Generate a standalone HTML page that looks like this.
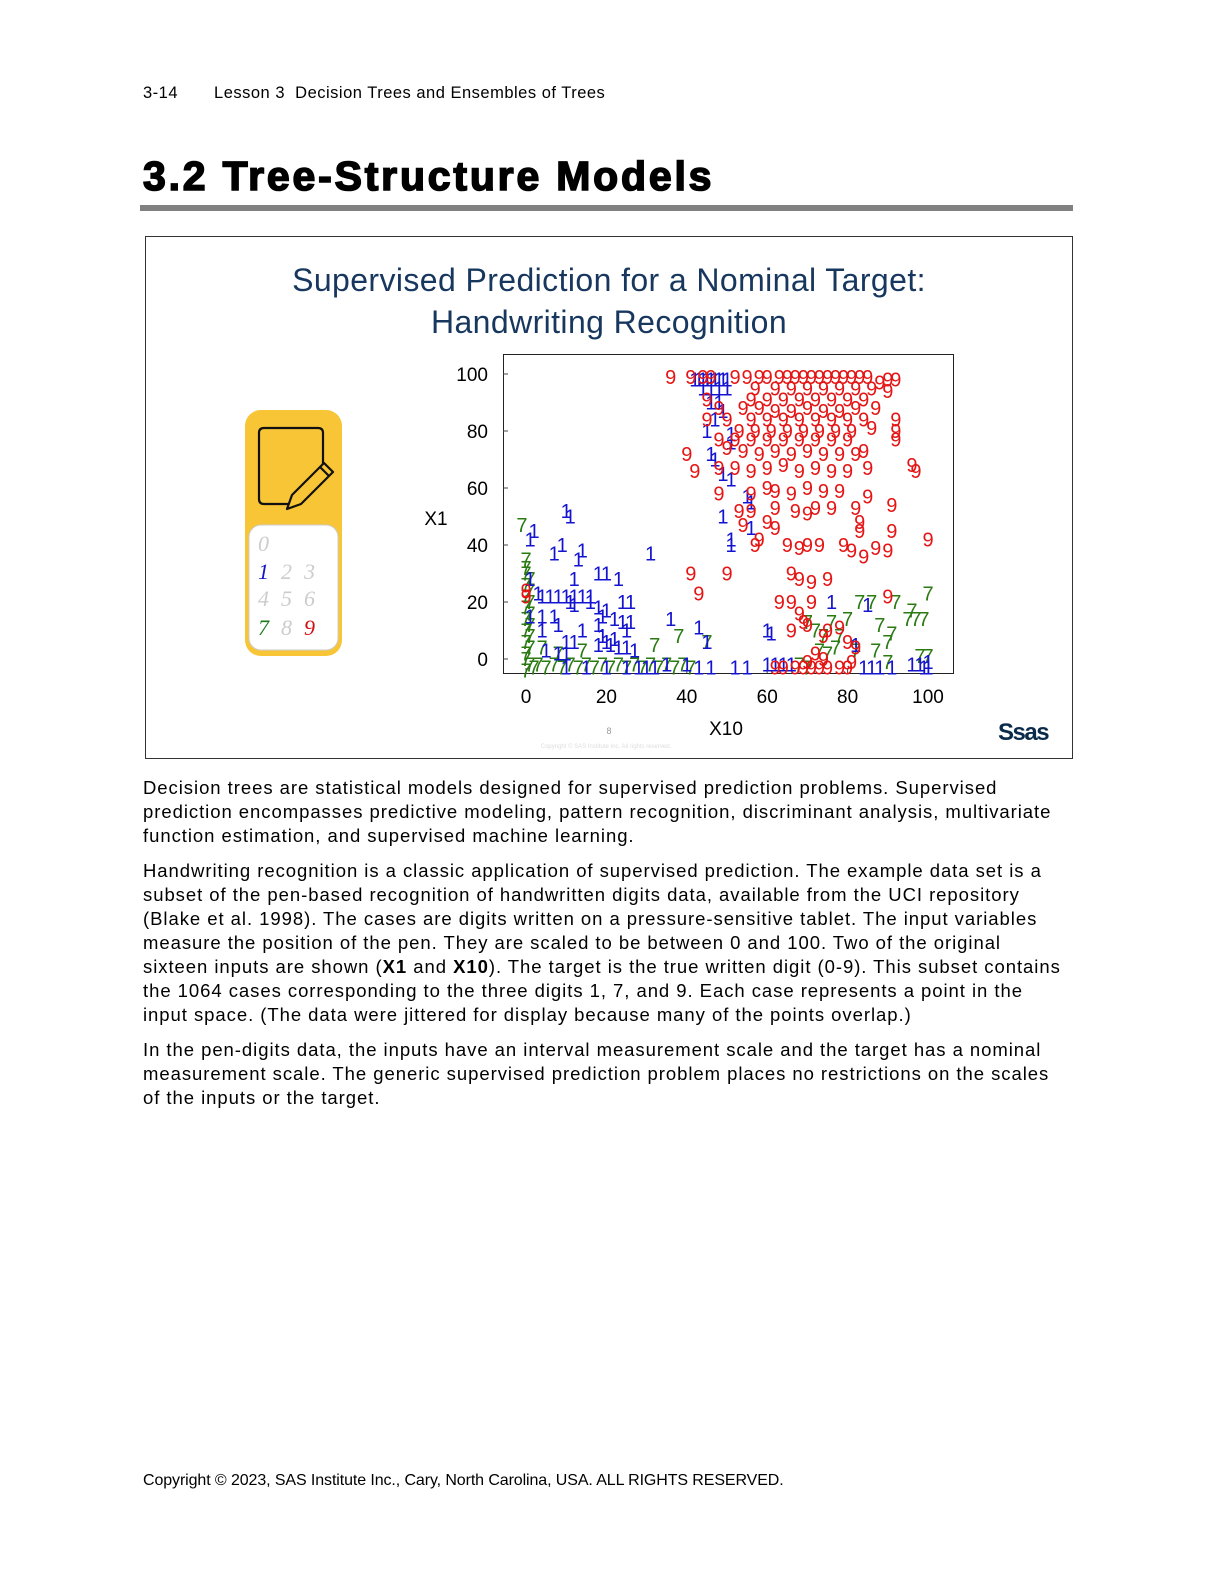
<!DOCTYPE html>
<html><head><meta charset="utf-8">
<style>
html,body{margin:0;padding:0;background:#fff;}
body{width:1216px;height:1573px;position:relative;font-family:"Liberation Sans",Arial,sans-serif;color:#000;overflow:hidden;}
.abs{position:absolute;}
.body p{margin:0;font-size:18.5px;line-height:24px;white-space:nowrap;letter-spacing:0.95px;}
</style></head><body>
<div class="abs" style="left:143px;top:84px;font-size:16.5px;letter-spacing:0.5px;">3-14<span style="display:inline-block;width:36px"></span>Lesson 3&nbsp; Decision Trees and Ensembles of Trees</div>
<div class="abs" style="left:143px;top:153px;font-size:41px;font-weight:bold;-webkit-text-stroke:1.6px #000;letter-spacing:2.8px;">3.2 Tree-Structure Models</div>
<div class="abs" style="left:140px;top:205px;width:933px;height:6px;background:#808080;"></div>

<svg class="abs" style="left:0;top:0" width="1216" height="780">
<rect x="145.5" y="236.5" width="927" height="522" fill="#fff" stroke="#333" stroke-width="1"/>
<text x="609" y="291" text-anchor="middle" font-size="32" letter-spacing="0.4" fill="#17375e" font-family="Liberation Sans, sans-serif">Supervised Prediction for a Nominal Target:</text>
<text x="609" y="333" text-anchor="middle" font-size="32" letter-spacing="0.4" fill="#17375e" font-family="Liberation Sans, sans-serif">Handwriting Recognition</text>
<g>
<rect x="245" y="410" width="97" height="246" rx="16" fill="#f8c536"/>
<rect x="249" y="525" width="89" height="125" rx="12" fill="#fff" stroke="#ccc"/>
<path d="M264 428 H318 Q323 428 323 433 V468 M300 504 H264 Q259 504 259 499 V433 Q259 428 264 428" fill="none" stroke="#111" stroke-width="2.2"/>
<path d="M287 509 L292 495 L324 463 L333 472 L301 504 Z M320 467 L329 476" fill="#f8c536" stroke="#111" stroke-width="2.2" stroke-linejoin="round"/>
<g font-family="Liberation Serif, serif" font-style="italic" font-size="22">
<text x="258" y="551" fill="#ccc">0</text>
<text x="258" y="579" fill="#1515c8">1</text><text x="281" y="579" fill="#ccc">2</text><text x="304" y="579" fill="#ccc">3</text>
<text x="258" y="606" fill="#ccc">4</text><text x="281" y="606" fill="#ccc">5</text><text x="304" y="606" fill="#ccc">6</text>
<text x="258" y="635" fill="#1a7a1a">7</text><text x="281" y="635" fill="#ccc">8</text><text x="304" y="635" fill="#d01010">9</text>
</g></g>
<g id="chart"></g>
<text x="609" y="734" text-anchor="middle" font-size="9" fill="#999">8</text>
<text x="606" y="748" text-anchor="middle" font-size="6" fill="#ddd">Copyright © SAS Institute Inc. All rights reserved.</text>
<text x="998" y="740" font-size="24" font-weight="bold" fill="#0b2b4a" letter-spacing="-1.5">Ssas</text>
</svg>

<div class="abs body" style="left:143px;top:776px;">
<p>Decision trees are statistical models designed for supervised prediction problems. Supervised</p>
<p>prediction encompasses predictive modeling, pattern recognition, discriminant analysis, multivariate</p>
<p>function estimation, and supervised machine learning.</p>
<p style="margin-top:11px">Handwriting recognition is a classic application of supervised prediction. The example data set is a</p>
<p>subset of the pen-based recognition of handwritten digits data, available from the UCI repository</p>
<p>(Blake et al. 1998). The cases are digits written on a pressure-sensitive tablet. The input variables</p>
<p>measure the position of the pen. They are scaled to be between 0 and 100. Two of the original</p>
<p>sixteen inputs are shown (<b>X1</b> and <b>X10</b>). The target is the true written digit (0-9). This subset contains</p>
<p>the 1064 cases corresponding to the three digits 1, 7, and 9. Each case represents a point in the</p>
<p>input space. (The data were jittered for display because many of the points overlap.)</p>
<p style="margin-top:11px">In the pen-digits data, the inputs have an interval measurement scale and the target has a nominal</p>
<p>measurement scale. The generic supervised prediction problem places no restrictions on the scales</p>
<p>of the inputs or the target.</p>
</div>
<div class="abs" style="left:143px;top:1472px;font-size:16px;letter-spacing:-0.1px;">Copyright © 2023, SAS Institute Inc., Cary, North Carolina, USA. ALL RIGHTS RESERVED.</div>

<script>
const xTicks=[0,20,40,60,80,100];
const yTicks=[0,20,40,60,80,100];
const nineX=[36,41,44,46,52,55,58,60,63,65,67,69,71,73,75,77,79,81,83,85,90,92,88,57,62,66,70,74,78,82,86,90,45,56,60,64,68,72,76,80,84,48,54,58,62,66,70,74,78,82,87,45,50,56,60,64,68,72,76,80,84,92,53,57,61,65,69,73,77,81,86,92,48,52,56,60,64,68,72,76,80,92,40,50,54,58,62,66,70,74,78,82,84,42,48,52,56,60,64,68,72,76,80,85,96,97,48,56,60,62,66,70,74,78,85,53,56,62,67,70,72,76,82,91,54,60,62,83,83,91,58,57,65,68,70,73,79,81,84,87,90,100,41,50,66,68,71,75,43,63,66,71,90,68,69,70,66,75,78,80,82,74,72,0,0,62,64,67,69,71,73,75,78,80,81,70,74];
const nineY=[99,99,99,99,99,99,99,99,99,99,99,99,99,99,99,99,99,99,99,99,98,98,97,95,95,95,95,95,95,95,95,94,91,91,91,91,91,91,91,91,91,88,88,88,87,87,88,87,87,88,88,84,84,84,84,84,84,84,84,84,84,84,80,80,80,80,80,80,80,80,81,80,77,77,77,77,77,77,77,77,77,77,72,74,73,72,73,72,73,72,72,72,73,66,67,67,66,67,68,66,67,66,66,67,68,66,58,58,60,59,58,60,59,59,57,52,52,53,52,51,53,53,53,54,47,48,46,48,45,45,42,40,40,39,40,40,40,38,36,39,38,42,30,30,30,28,27,28,23,20,20,20,22,16,13,12,10,10,11,6,4,8,2,24,22,-3,-3,-3,-3,-3,-3,-3,-3,-3,-1,-1,0];
const oneX=[42,43,44,45,46,47,48,49,50,44,46,48,50,46,48,49,47,45,51,51,46,47,49,51,55,56,49,56,51,51,10,11,2,1,9,14,7,13,31,18,20,23,12,1,3,4,6,8,10,12,14,16,11,12,16,18,20,24,26,1,4,7,8,4,14,18,19,22,24,26,25,19,20,22,10,12,18,21,23,25,27,5,8,10,35,40,43,46,52,55,36,43,45,60,61,76,85,82,60,62,64,66,84,86,88,91,96,98,99,100,100,28,30,32,25,20,15,10];
const oneY=[98,98,98,98,98,98,98,98,98,95,95,95,95,90,90,87,84,80,79,76,72,70,65,63,57,55,50,46,42,40,52,50,45,42,40,38,37,35,37,30,30,28,28,28,23,22,22,22,22,22,22,22,20,19,20,18,17,20,20,15,15,15,12,10,10,12,15,14,13,13,10,8,6,7,6,6,5,5,4,4,3,3,2,2,-2,-2,-3,-3,-3,-3,14,11,6,10,9,20,19,5,-2,-2,-2,-2,-3,-3,-3,-3,-2,-2,-3,-3,-1,-3,-3,-3,-3,-3,-3,-3];
const sevenX=[0,0,0,1,0,1,0,1,0,1,0,1,0,1,0,1,0,0,1,0,2,-1,3,5,7,9,11,13,15,17,19,21,23,25,27,29,31,33,35,37,39,41,4,8,14,32,38,45,70,72,74,76,78,80,73,75,77,68,70,82,83,86,92,100,88,91,90,95,97,99,96,87,90,98,100];
const sevenY=[35,32,30,28,26,24,22,20,18,16,14,12,10,8,6,4,2,0,-2,-4,-3,47,-2,-3,-2,-3,-2,-3,-2,-3,-2,-3,-2,-3,-2,-3,-2,-3,-2,-3,-2,-3,4,2,3,5,8,6,13,10,8,13,8,14,3,2,4,-2,-3,3,20,20,20,23,12,9,6,14,14,14,17,3,-1,1,1];
const seriesLabel=['7','1','9'];
const seriesColor=['#2a7a12','#1414d0','#e51515'];

const X0=503,X1=953,Y0=354,Y1=673;
const xs=v=>526+(v/100)*402;
const ys=v=>659-(v/100)*285;
const NS='http://www.w3.org/2000/svg';
const g=document.getElementById('chart');
function el(tag,attrs,txt){const e=document.createElementNS(NS,tag);for(const k in attrs)e.setAttribute(k,attrs[k]);if(txt!==undefined)e.textContent=txt;g.appendChild(e);return e;}
const frame=el('rect',{x:X0+0.5,y:Y0+0.5,width:X1-X0,height:Y1-Y0,fill:'#fff',stroke:'#222','stroke-width':1});


yTicks.forEach(t=>{
  const lab=el('text',{x:488,y:ys(t)+7,'text-anchor':'end','font-size':19,fill:'#000'},String(t));
  
  
  const tk=el('line',{x1:X0,x2:X0+5,y1:ys(t),y2:ys(t),stroke:'#444'});
  
  
});
xTicks.forEach(t=>{
  const lab=el('text',{x:xs(t),y:703,'text-anchor':'middle','font-size':19,fill:'#000'},String(t));
  
  
  const tk=el('line',{x1:xs(t),x2:xs(t),y1:Y1,y2:Y1-5,stroke:'#444'});
  
  
});
const yt=el('text',{x:436,y:525,'text-anchor':'middle','font-size':19,fill:'#000'},'X1');


const xt=el('text',{x:726,y:735,'text-anchor':'middle','font-size':19,fill:'#000'},'X10');


const sets=[[sevenX,sevenY],[oneX,oneY],[nineX,nineY]];
sets.forEach((s,i)=>{
  s[0].forEach((xv,j)=>{
    const p=el('text',{x:xs(xv),y:ys(s[1][j])+7,'text-anchor':'middle','font-size':20,fill:seriesColor[i]},seriesLabel[i]);
    
    
  });
});
</script>
</body></html>
